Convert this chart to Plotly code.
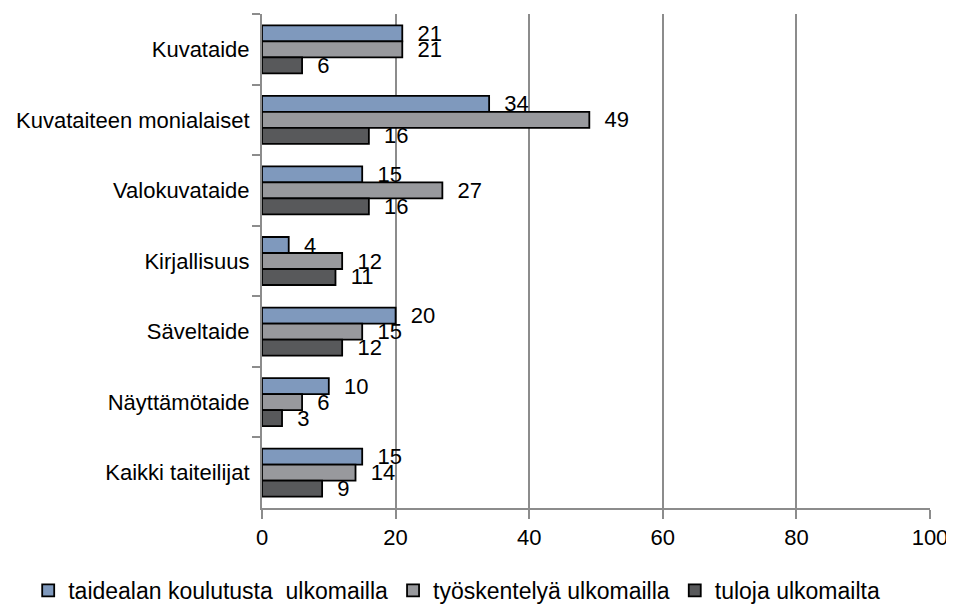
import plotly.graph_objects as go

categories = ["Kuvataide", "Kuvataiteen monialaiset", "Valokuvataide", "Kirjallisuus",
              "Säveltaide", "Näyttämötaide", "Kaikki taiteilijat"]
series_names = ["taidealan koulutusta  ulkomailla", "työskentelyä ulkomailla", "tuloja ulkomailta"]
koulutus = [21, 34, 15, 4, 20, 10, 15]
tyoskentely = [21, 49, 27, 12, 15, 6, 14]
tulot = [6, 16, 16, 11, 12, 3, 9]
x_ticks = [0, 20, 40, 60, 80, 100]

colors = ["#7f99bd", "#98999d", "#58595b"]
values = [koulutus, tyoskentely, tulot]
FONT = "Liberation Sans, Arial, sans-serif"

fig = go.Figure()
for i, (name, vals, col) in enumerate(zip(series_names, values, colors)):
    fig.add_trace(go.Bar(
        y=categories, x=vals, name=name, orientation="h",
        marker=dict(color=col, line=dict(color="#000000", width=1.8)),
        text=[str(v) for v in vals],
        texttemplate="  %{text}",
        textposition="outside",
        constraintext="none",
        cliponaxis=False,
        textfont=dict(family=FONT, size=22, color="#000000"),
    ))

fig.update_layout(
    width=946, height=598,
    barmode="group", bargap=0.32, bargroupgap=0,
    plot_bgcolor="white", paper_bgcolor="white",
    margin=dict(l=254, r=24, t=6, b=98, autoexpand=False),
    font=dict(family=FONT, size=22, color="#000000"),
    legend=dict(orientation="h", x=-0.35, xanchor="left", y=-0.167, yanchor="middle",
                traceorder="normal", font=dict(size=23), itemwidth=30),
    xaxis=dict(range=[0, 100], tickvals=x_ticks, showgrid=True, gridcolor="#8c8c8c",
               gridwidth=1.8, showline=True, linecolor="#8c8c8c", linewidth=1.8,
               ticks="outside", ticklen=9, tickwidth=1.8, tickcolor="#8c8c8c",
               zeroline=False, tickfont=dict(size=22), automargin=False),
    yaxis=dict(autorange="reversed", showline=True, linecolor="#8c8c8c", linewidth=1.8,
               ticks="outside", ticklen=8, tickwidth=1.8, tickcolor="#8c8c8c",
               tickson="boundaries", showgrid=False, ticksuffix=" ", tickfont=dict(size=22),
               automargin=False),
)

fig.write_html("out.html")
